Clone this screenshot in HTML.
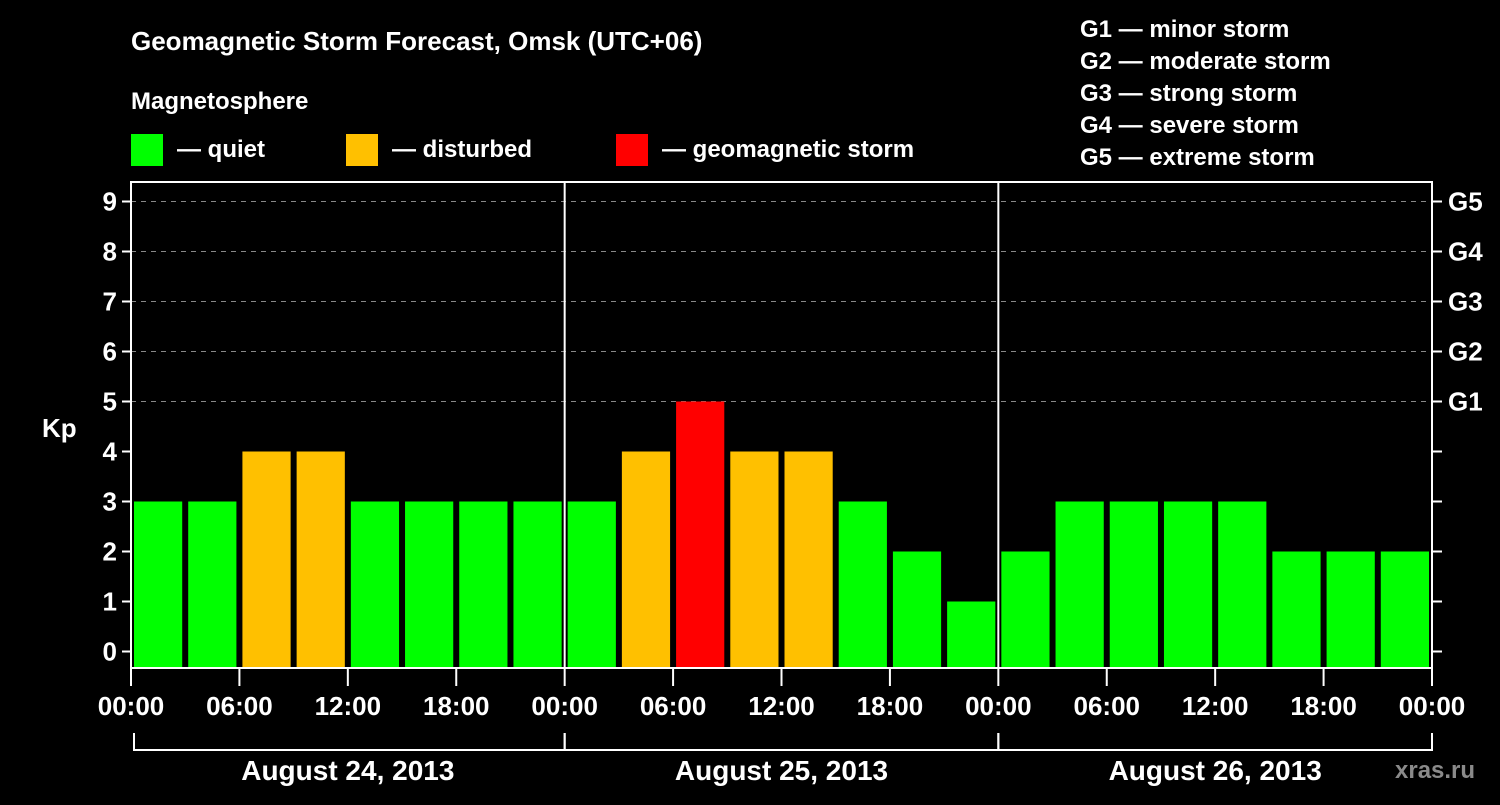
<!DOCTYPE html>
<html><head><meta charset="utf-8"><style>
body{margin:0;background:#000;width:1500px;height:800px;overflow:hidden;font-family:"Liberation Sans",sans-serif;}
svg text{font-family:"Liberation Sans",sans-serif;font-weight:bold;fill:#fff;}
</style></head><body>
<svg id="c" width="1500" height="800">
<text x="131" y="50" font-size="26">Geomagnetic Storm Forecast, Omsk (UTC+06)</text>
<text x="131" y="109" font-size="24">Magnetosphere</text>
<g>
<rect x="131" y="134" width="32" height="32" fill="#00ff00"/>
<text x="177" y="157" font-size="24">— quiet</text>
<rect x="346" y="134" width="32" height="32" fill="#ffc000"/>
<text x="392" y="157" font-size="24">— disturbed</text>
<rect x="616" y="134" width="32" height="32" fill="#ff0000"/>
<text x="662" y="157" font-size="24">— geomagnetic storm</text>
</g>
<g font-size="24">
<text x="1080" y="37">G1 — minor storm</text>
<text x="1080" y="69">G2 — moderate storm</text>
<text x="1080" y="101">G3 — strong storm</text>
<text x="1080" y="133">G4 — severe storm</text>
<text x="1080" y="165">G5 — extreme storm</text>
</g>
<text x="42" y="437" font-size="26">Kp</text>
<text x="1395" y="778" font-size="24" fill="#888" style="fill:#8a8a8a">xras.ru</text>
<g id="plot"></g>
</svg>
<script>
const days = ["August 24, 2013","August 25, 2013","August 26, 2013"];
const kpValues = [3,3,4,4,3,3,3,3, 3,4,5,4,4,3,2,1, 2,3,3,3,3,2,2,2];
const yTicks = [0,1,2,3,4,5,6,7,8,9];
const gLabels = ["G1","G2","G3","G4","G5"];
const gLevels = [5,6,7,8,9];
const timeLabels = ["00:00","06:00","12:00","18:00"];

const L=131,R=1432,T=182,B=668;
const ns="http://www.w3.org/2000/svg";
const g=document.getElementById('plot');
function y(v){return 651.5-50*v;}
const nBars=kpValues.length;
function x(i){return L+(R-L)*i/nBars;}
function el(t,a,p){const e=document.createElementNS(ns,t);for(const k in a)e.setAttribute(k,a[k]);(p||g).appendChild(e);return e;}
function color(v){return v>=5?"#ff0000":v>=4?"#ffc000":"#00ff00";}

// grid
gLevels.forEach(v=>{
 const l=el('line',{x1:L,x2:R,y1:y(v),y2:y(v),stroke:"#888","stroke-width":1,"stroke-dasharray":"5,5"});
 
 
});
// bars
kpValues.forEach((v,i)=>{
 const r=el('rect',{x:x(i)+3,y:y(v),width:(R-L)/nBars-6,height:B-y(v),fill:color(v)});
 
 
});
// day separators
for(let d=1;d<days.length;d++){
 const xx=x(d*nBars/days.length);
 const l=el('line',{x1:xx,x2:xx,y1:T,y2:B,stroke:"#fff","stroke-width":2});
 
 
}
// box
const box=el('rect',{x:L,y:T,width:R-L,height:B-T,fill:"none",stroke:"#fff","stroke-width":2});


// y ticks
yTicks.forEach(v=>{
 el('line',{x1:L-9,x2:L,y1:y(v),y2:y(v),stroke:"#fff","stroke-width":2});
 el('line',{x1:R,x2:R+10,y1:y(v),y2:y(v),stroke:"#fff","stroke-width":2});
 const t=el('text',{x:L-14,y:y(v)+9,"text-anchor":"end","font-size":26});
 t.textContent=v;
 
 
});
gLevels.forEach((v,i)=>{
 const t=el('text',{x:1448,y:y(v)+9,"font-size":26});
 t.textContent=gLabels[i];
 
 
});
// x ticks
const perDay=nBars/days.length;
for(let d=0;d<days.length;d++){
 for(let k=0;k<timeLabels.length;k++){
  const xx=x(d*perDay+k*2);
  el('line',{x1:xx,x2:xx,y1:B,y2:B+18,stroke:"#fff","stroke-width":2});
  const t=el('text',{x:xx,y:715,"text-anchor":"middle","font-size":26});
  t.textContent=timeLabels[k];
  
  
 }
 const x0=x(d*perDay),x1=x((d+1)*perDay);
 el('path',{d:`M${x0+(d==0?3:0)},733V750H${x1}V733`,stroke:"#fff","stroke-width":2,fill:"none"});
 const t=el('text',{x:(x0+x1)/2,y:780,"text-anchor":"middle","font-size":28});
 t.textContent=days[d];
 
 
}
const xe=x(nBars);
el('line',{x1:xe,x2:xe,y1:B,y2:B+18,stroke:"#fff","stroke-width":2});
const te=el('text',{x:xe,y:715,"text-anchor":"middle","font-size":26});
te.textContent="00:00";


</script>
</body></html>
